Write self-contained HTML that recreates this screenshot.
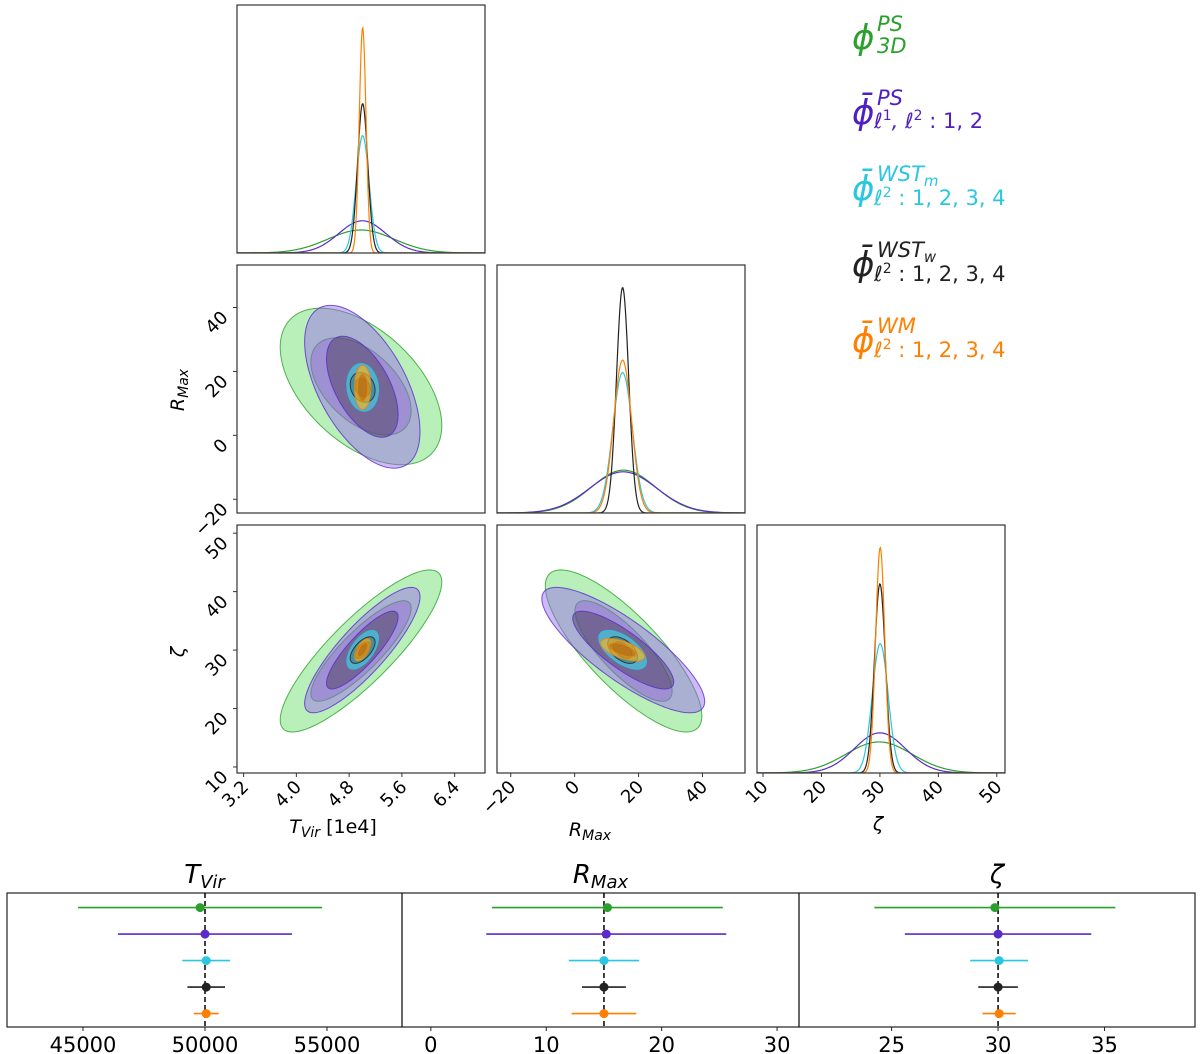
<!DOCTYPE html>
<html><head><meta charset="utf-8"><style>
html,body{margin:0;padding:0;background:#fff;}
svg{display:block;font-family:"DejaVu Sans","Liberation Sans",sans-serif;}
</style></head><body>
<svg id="fig" width="1200" height="1054" viewBox="0 0 1200 1054" xmlns="http://www.w3.org/2000/svg">
<g id="legend" font-style="italic">
 <g fill="#2ca02c">
  <text x="852" y="49" font-size="34">ϕ</text>
  <text x="877" y="31" font-size="21">PS</text>
  <text x="877" y="53" font-size="21">3D</text>
 </g>
 <g fill="#4f1fbf">
  <text x="852" y="124" font-size="34">ϕ̄</text>
  <text x="877" y="105" font-size="21">PS</text>
  <text x="874" y="128" font-size="21">ℓ<tspan font-size="14" dy="-8" font-style="normal">1</tspan><tspan dy="8">, ℓ</tspan><tspan font-size="14" dy="-8" font-style="normal">2</tspan><tspan dy="8" font-style="normal"> : 1, 2</tspan></text>
 </g>
 <g fill="#2bc6e0">
  <text x="852" y="200" font-size="34">ϕ̄</text>
  <text x="877" y="181" font-size="21">WST<tspan font-size="15" dy="5">m</tspan></text>
  <text x="874" y="205" font-size="21">ℓ<tspan font-size="14" dy="-8" font-style="normal">2</tspan><tspan dy="8" font-style="normal"> : 1, 2, 3, 4</tspan></text>
 </g>
 <g fill="#222">
  <text x="852" y="276" font-size="34">ϕ̄</text>
  <text x="877" y="257" font-size="21">WST<tspan font-size="15" dy="5">w</tspan></text>
  <text x="874" y="281" font-size="21">ℓ<tspan font-size="14" dy="-8" font-style="normal">2</tspan><tspan dy="8" font-style="normal"> : 1, 2, 3, 4</tspan></text>
 </g>
 <g fill="#ff7f00">
  <text x="852" y="352" font-size="34">ϕ̄</text>
  <text x="877" y="333" font-size="21">WM</text>
  <text x="874" y="357" font-size="21">ℓ<tspan font-size="14" dy="-8" font-style="normal">2</tspan><tspan dy="8" font-style="normal"> : 1, 2, 3, 4</tspan></text>
 </g>
</g>
</svg>
<script>
const seriesNames = ['ps3d','ps2d','wstm','wstw','wm'];
const meanT = [4.98, 5.0, 5.005, 5.005, 5.005];
const meanR = [15.3, 15.2, 15.0, 15.0, 15.0];
const meanZ = [29.85, 30.0, 30.05, 30.0, 30.05];
const sigT = [0.50, 0.357, 0.098, 0.077, 0.051];
const sigR = [10.0, 10.4, 3.05, 1.9, 2.8];
const sigZ = [5.66, 4.38, 1.36, 0.93, 0.78];
const rhoTR = [-0.5, -0.55, -0.1, -0.2, 0.0];
const rhoTZ = [0.85, 0.85, 0.6, 0.6, 0.6];
const rhoRZ = [-0.8, -0.82, -0.6, -0.5, -0.6];
const truthT = 50000, truthR = 15, truthZ = 30;
const ticksT = [3.2, 4.0, 4.8, 5.6, 6.4];
const ticksR = [-20, 0, 20, 40];
const ticksZ = [10, 20, 30, 40, 50];
const bTicksT = [45000, 50000, 55000];
const bTicksR = [0, 10, 20, 30];
const bTicksZ = [25, 30, 35];

const lineCol = ['#2ca02c','#5a2bc9','#2bc6e0','#222222','#ff7f00'];
const outerFill = ['rgba(100,220,100,0.45)','rgba(150,100,240,0.45)','rgba(70,205,225,0.7)','rgba(60,60,60,0.3)','rgba(250,185,30,0.65)'];
const innerFill = ['rgba(140,110,190,0.45)','rgba(65,53,83,0.45)','rgba(40,170,200,0.6)','rgba(20,20,20,0.4)','rgba(190,90,0,0.5)'];

const NS='http://www.w3.org/2000/svg';
const svg=document.getElementById('fig');
function mk(tag,attrs,parent){const e=document.createElementNS(NS,tag);for(const k in attrs)e.setAttribute(k,attrs[k]);(parent||svg).appendChild(e);return e;}

const cols=[[237,485],[497,745],[757,1005]];
const rows=[[5,253],[265,513],[525,773]];
const lims={T:[3.1,6.86],R:[-24.3,53.3],Z:[8.97,51.4]};
const means={T:meanT,R:meanR,Z:meanZ}, sigs={T:sigT,R:sigR,Z:sigZ};
const ticks={T:ticksT,R:ticksR,Z:ticksZ};
const params=['T','R','Z'];
function sx(p,c,v){const l=lims[p];return cols[c][0]+(v-l[0])/(l[1]-l[0])*(cols[c][1]-cols[c][0]);}
function sy(p,r,v){const l=lims[p];return rows[r][1]-(v-l[0])/(l[1]-l[0])*(rows[r][1]-rows[r][0]);}
function rho(a,b,i){const k=[a,b].sort().join('');if(k==='RT')return rhoTR[i];if(k==='TZ')return rhoTZ[i];return rhoRZ[i];}

for(let r=0;r<3;r++)for(let c=0;c<=r;c++){
  const g=mk('g',{});
  
  
  const x0=cols[c][0],x1=cols[c][1],y0=rows[r][0],y1=rows[r][1];
  const cp=mk('clipPath',{id:'cp'+r+c},g);
  mk('rect',{x:x0,y:y0,width:x1-x0,height:y1-y0},cp);
  const inner=mk('g',{'clip-path':'url(#cp'+r+c+')'},g);
  if(r===c){
    const p=params[c];
    let mx=0;for(let i=0;i<5;i++)mx=Math.max(mx,1/(sigs[p][i]*Math.sqrt(2*Math.PI)));
    const ymax=mx*1.1;
    for(let i=0;i<5;i++){
      let d='';
      for(let k=0;k<=400;k++){
        const v=lims[p][0]+(lims[p][1]-lims[p][0])*k/400;
        const z=(v-means[p][i])/sigs[p][i];
        const f=Math.exp(-0.5*z*z)/(sigs[p][i]*Math.sqrt(2*Math.PI));
        d+=(k?'L':'M')+sx(p,c,v).toFixed(2)+' '+(y1-f/ymax*(y1-y0)).toFixed(2);
      }
      const path=mk('path',{d:d,fill:'none',stroke:lineCol[i],'stroke-width':1.2},inner);
      
      
    }
  } else {
    const px=params[c],py=params[r];
    for(let i=0;i<5;i++){
      const rh=rho(px,py,i);
      [[2.45,outerFill[i],'outer'],[1.52,innerFill[i],'inner']].forEach(([k,fill,lvl])=>{
        let d='';
        for(let t=0;t<=120;t++){
          const a=t/120*2*Math.PI;
          const vx=means[px][i]+k*sigs[px][i]*Math.cos(a);
          const vy=means[py][i]+k*sigs[py][i]*(rh*Math.cos(a)+Math.sqrt(1-rh*rh)*Math.sin(a));
          d+=(t?'L':'M')+sx(px,c,vx).toFixed(2)+' '+sy(py,r,vy).toFixed(2);
        }
        const path=mk('path',{d:d+'Z',fill:fill,stroke:lineCol[i],'stroke-width':1,'stroke-opacity':0.8},inner);
        
        
      });
    }
  }
  mk('rect',{x:x0,y:y0,width:x1-x0,height:y1-y0,fill:'none',stroke:'#333','stroke-width':1.2},g);
  if(r===2){
    ticks[params[c]].forEach(v=>{
      const x=sx(params[c],c,v);
      mk('line',{x1:x,y1:y1,x2:x,y2:y1+4,stroke:'#333'},g);
      const t=mk('text',{x:x+6,y:y1+15,'font-size':18,'text-anchor':'end',transform:'rotate(-45 '+(x+6)+' '+(y1+15)+')'},g);
      t.textContent=String(v<0?'−'+(-v):(params[c]==='T'?v.toFixed(1):v));
      
      
    });
  }
  if(c===0&&r>0){
    ticks[params[r]].forEach(v=>{
      const y=sy(params[r],r,v);
      mk('line',{x1:x0,y1:y,x2:x0-4,y2:y,stroke:'#333'},g);
      const t=mk('text',{x:x0-8,y:y+11,'font-size':18,'text-anchor':'end',transform:'rotate(-45 '+(x0-8)+' '+(y+11)+')'},g);
      t.textContent=String(v<0?'−'+(-v):v);
      
      
    });
  }
}
function lab(html,x,y,name,rot){const t=mk('text',{x:x,y:y,'font-size':19,'text-anchor':'middle'});if(rot)t.setAttribute('transform','rotate(-90 '+x+' '+y+')');t.innerHTML=html;}
lab('<tspan font-style="italic">T</tspan><tspan font-style="italic" font-size="14" dy="4">Vir</tspan><tspan dy="-4"> [1e4]</tspan>',333,833,'x-axis-title-tvir');
lab('<tspan font-style="italic">R</tspan><tspan font-style="italic" font-size="14" dy="4">Max</tspan>',590,836,'x-axis-title-rmax');
lab('<tspan font-style="italic">ζ</tspan>',878,830,'x-axis-title-zeta');
lab('<tspan font-style="italic">R</tspan><tspan font-style="italic" font-size="14" dy="4">Max</tspan>',184,390,'y-axis-title-rmax',true);
lab('<tspan font-style="italic">ζ</tspan>',184,652,'y-axis-title-zeta',true);

const bCols=[[7,402],[402,799],[799,1195]];
const bLims=[[41885,58074],[-2.5,31.9],[20.65,39.25]];
const bTicks=[bTicksT,bTicksR,bTicksZ];
const truths=[truthT,truthR,truthZ];
const by0=893,by1=1027;
const titles=['<tspan font-style="italic">T</tspan><tspan font-style="italic" font-size="18" dy="5">Vir</tspan>','<tspan font-style="italic">R</tspan><tspan font-style="italic" font-size="18" dy="5">Max</tspan>','<tspan font-style="italic">ζ</tspan>'];
for(let j=0;j<3;j++){
  const g=mk('g',{});
  
  
  const [x0,x1]=bCols[j];
  const bx=v=>x0+(v-bLims[j][0])/(bLims[j][1]-bLims[j][0])*(x1-x0);
  mk('rect',{x:x0,y:by0,width:x1-x0,height:by1-by0,fill:'none',stroke:'#222','stroke-width':1.2},g);
  mk('line',{x1:bx(truths[j]),y1:by0,x2:bx(truths[j]),y2:by1,stroke:'#000','stroke-width':1.5,'stroke-dasharray':'5,3'},g);
  const sc=j===0?1e4:1;
  const mArr=[meanT,meanR,meanZ][j], sArr=[sigT,sigR,sigZ][j];
  for(let i=0;i<5;i++){
    const y=by0+(i+0.55)*26.5;
    const m=mArr[i]*sc, s=sArr[i]*sc;
    const l=mk('line',{x1:bx(m-s),y1:y,x2:bx(m+s),y2:y,stroke:lineCol[i],'stroke-width':1.6},g);
    
    
    const c=mk('circle',{cx:bx(m),cy:y,r:4.5,fill:lineCol[i]},g);
    
    
  }
  bTicks[j].forEach(v=>{
    const x=bx(v);
    mk('line',{x1:x,y1:by1,x2:x,y2:by1+4,stroke:'#222'},g);
    const t=mk('text',{x:x,y:by1+25,'font-size':21,'text-anchor':'middle'},g);
    t.textContent=String(v);
    
    
  });
  const t=mk('text',{x:(x0+x1)/2,y:883,'font-size':26,'text-anchor':'middle'},g);
  t.innerHTML=titles[j];
  
  
}
</script>
</body></html>
